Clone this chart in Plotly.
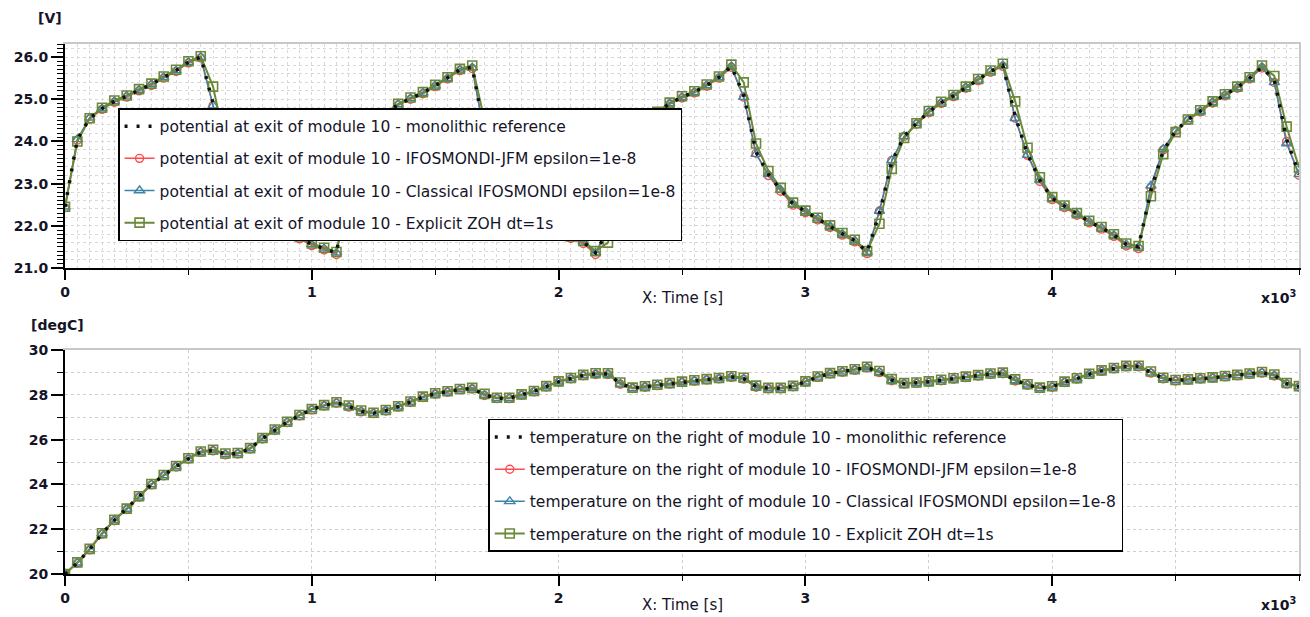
import plotly.graph_objects as go

# ---------------- data ----------------
TIME_S = [
    0, 50, 100, 150, 200, 250, 300, 350, 400, 450,
    500, 550, 600, 650, 700, 750, 800, 850, 900, 950,
    1000, 1050, 1100, 1150, 1200, 1250, 1300, 1350, 1400, 1450,
    1500, 1550, 1600, 1650, 1700, 1750, 1800, 1850, 1900, 1950,
    2000, 2050, 2100, 2150, 2200, 2250, 2300, 2350, 2400, 2450,
    2500, 2550, 2600, 2650, 2700, 2750, 2800, 2850, 2900, 2950,
    3000, 3050, 3100, 3150, 3200, 3250, 3300, 3350, 3400, 3450,
    3500, 3550, 3600, 3650, 3700, 3750, 3800, 3850, 3900, 3950,
    4000, 4050, 4100, 4150, 4200, 4250, 4300, 4350, 4400, 4450,
    4500, 4550, 4600, 4650, 4700, 4750, 4800, 4850, 4900, 4950,
    5000,
]

# potential at exit of module 10 [V]
V_REF = [
    22.45, 24.05, 24.55, 24.78, 24.95, 25.07, 25.22, 25.35, 25.52, 25.68,
    25.88, 26.00, 24.90, 23.65, 23.05, 22.65, 22.38, 22.15, 21.92, 21.72,
    21.56, 21.46, 21.36, 23.05, 23.90, 24.35, 24.65, 24.88, 25.02, 25.15,
    25.32, 25.50, 25.70, 25.76, 24.20, 23.30, 22.85, 22.55, 22.30, 22.10,
    21.90, 21.73, 21.62, 21.36, 21.90, 23.30, 24.00, 24.40, 24.68, 24.90,
    25.05, 25.17, 25.33, 25.52, 25.78, 25.10, 23.75, 23.22, 22.85, 22.52,
    22.34, 22.17, 21.99, 21.81, 21.65, 21.38, 22.30, 23.52, 24.12, 24.43,
    24.70, 24.92, 25.08, 25.28, 25.46, 25.66, 25.80, 24.60, 23.70, 23.08,
    22.65, 22.46, 22.28, 22.10, 21.95, 21.78, 21.56, 21.50, 22.85, 23.78,
    24.25, 24.52, 24.72, 24.93, 25.10, 25.28, 25.50, 25.76, 25.45, 24.05,
    23.22,
]
V_JFM = [
    22.43, 24.03, 24.53, 24.76, 24.93, 25.05, 25.20, 25.33, 25.50, 25.66,
    25.86, 25.98, 24.85, 23.62, 23.02, 22.62, 22.35, 22.12, 21.89, 21.69,
    21.53, 21.43, 21.32, 23.08, 23.90, 24.33, 24.63, 24.86, 25.00, 25.13,
    25.30, 25.48, 25.68, 25.73, 24.15, 23.27, 22.82, 22.52, 22.27, 22.07,
    21.87, 21.70, 21.58, 21.32, 21.95, 23.33, 24.00, 24.38, 24.66, 24.88,
    25.03, 25.15, 25.31, 25.50, 25.76, 25.05, 23.72, 23.19, 22.82, 22.49,
    22.31, 22.14, 21.96, 21.78, 21.62, 21.34, 22.35, 23.55, 24.12, 24.41,
    24.68, 24.90, 25.06, 25.26, 25.44, 25.64, 25.78, 24.55, 23.67, 23.05,
    22.62, 22.43, 22.25, 22.07, 21.92, 21.75, 21.52, 21.46, 22.90, 23.80,
    24.25, 24.50, 24.70, 24.91, 25.08, 25.26, 25.48, 25.74, 25.40, 24.00,
    23.20,
]
V_CLASSICAL = [
    22.45, 24.05, 24.56, 24.78, 24.95, 25.08, 25.22, 25.36, 25.52, 25.68,
    25.88, 26.00, 24.85, 23.63, 23.05, 22.65, 22.38, 22.15, 21.92, 21.72,
    21.56, 21.46, 21.36, 23.10, 23.92, 24.35, 24.65, 24.88, 25.02, 25.15,
    25.32, 25.50, 25.70, 25.75, 24.15, 23.30, 22.85, 22.55, 22.30, 22.10,
    21.90, 21.73, 21.62, 21.36, 21.95, 23.35, 24.02, 24.40, 24.68, 24.90,
    25.05, 25.17, 25.33, 25.52, 25.78, 25.05, 23.70, 23.22, 22.85, 22.52,
    22.34, 22.17, 21.99, 21.81, 21.65, 21.38, 22.35, 23.55, 24.12, 24.43,
    24.70, 24.92, 25.08, 25.28, 25.46, 25.66, 25.80, 24.55, 23.68, 23.08,
    22.65, 22.46, 22.28, 22.10, 21.95, 21.78, 21.56, 21.50, 22.95, 23.82,
    24.25, 24.52, 24.72, 24.93, 25.10, 25.28, 25.50, 25.76, 25.40, 23.95,
    23.22,
]
V_ZOH = [
    22.45, 24.00, 24.55, 24.80, 24.97, 25.09, 25.24, 25.37, 25.54, 25.70,
    25.90, 26.02, 25.30, 23.90, 23.15, 22.72, 22.42, 22.18, 21.95, 21.75,
    21.58, 21.48, 21.38, 22.70, 23.80, 24.32, 24.66, 24.89, 25.04, 25.17,
    25.34, 25.52, 25.72, 25.80, 24.50, 23.40, 22.90, 22.58, 22.33, 22.12,
    21.92, 21.75, 21.64, 21.40, 21.60, 23.00, 23.95, 24.40, 24.70, 24.92,
    25.07, 25.19, 25.35, 25.54, 25.82, 25.40, 23.95, 23.30, 22.90, 22.55,
    22.36, 22.19, 22.01, 21.83, 21.67, 21.40, 22.05, 23.35, 24.08, 24.43,
    24.72, 24.94, 25.10, 25.30, 25.48, 25.68, 25.84, 24.95, 23.85, 23.15,
    22.68, 22.48, 22.30, 22.12, 21.97, 21.80, 21.58, 21.52, 22.70, 23.70,
    24.22, 24.52, 24.74, 24.95, 25.12, 25.30, 25.52, 25.80, 25.55, 24.35,
    23.38,
]

# temperature on the right of module 10 [degC]
T_REF = [
    20.00, 20.50, 21.10, 21.80, 22.40, 22.90, 23.45, 24.00, 24.40, 24.80,
    25.15, 25.45, 25.52, 25.35, 25.38, 25.60, 26.05, 26.43, 26.78, 27.08,
    27.35, 27.52, 27.65, 27.48, 27.27, 27.18, 27.30, 27.47, 27.68, 27.90,
    28.05, 28.14, 28.24, 28.28, 28.00, 27.85, 27.85, 28.00, 28.15, 28.37,
    28.58, 28.73, 28.87, 28.93, 28.93, 28.50, 28.30, 28.36, 28.43, 28.50,
    28.57, 28.63, 28.68, 28.73, 28.80, 28.72, 28.37, 28.29, 28.29, 28.38,
    28.58, 28.80, 28.95, 29.03, 29.12, 29.22, 29.02, 28.66, 28.50, 28.53,
    28.58, 28.65, 28.72, 28.79, 28.86, 28.93, 28.96, 28.65, 28.45, 28.30,
    28.36, 28.57, 28.72, 28.92, 29.07, 29.18, 29.27, 29.27, 29.00, 28.73,
    28.64, 28.67, 28.72, 28.76, 28.82, 28.87, 28.93, 28.99, 28.87, 28.50,
    28.37,
]
T_JFM = [
    20.00, 20.48, 21.08, 21.78, 22.38, 22.88, 23.43, 23.98, 24.38, 24.78,
    25.13, 25.43, 25.50, 25.32, 25.36, 25.58, 26.03, 26.41, 26.76, 27.06,
    27.33, 27.50, 27.63, 27.45, 27.24, 27.16, 27.28, 27.45, 27.66, 27.88,
    28.03, 28.12, 28.22, 28.26, 27.97, 27.83, 27.83, 27.98, 28.13, 28.35,
    28.56, 28.71, 28.85, 28.91, 28.91, 28.47, 28.28, 28.34, 28.41, 28.48,
    28.55, 28.61, 28.66, 28.71, 28.78, 28.70, 28.34, 28.27, 28.27, 28.36,
    28.56, 28.78, 28.93, 29.01, 29.10, 29.20, 28.99, 28.63, 28.48, 28.51,
    28.56, 28.63, 28.70, 28.77, 28.84, 28.91, 28.94, 28.62, 28.43, 28.28,
    28.34, 28.55, 28.70, 28.90, 29.05, 29.16, 29.25, 29.25, 28.97, 28.71,
    28.62, 28.65, 28.70, 28.74, 28.80, 28.85, 28.91, 28.97, 28.84, 28.48,
    28.35,
]
T_CLASSICAL = [
    20.00, 20.50, 21.10, 21.80, 22.40, 22.90, 23.45, 24.00, 24.40, 24.80,
    25.15, 25.45, 25.52, 25.35, 25.38, 25.60, 26.05, 26.43, 26.78, 27.08,
    27.35, 27.52, 27.65, 27.47, 27.27, 27.18, 27.30, 27.47, 27.68, 27.90,
    28.05, 28.14, 28.24, 28.28, 27.99, 27.85, 27.85, 28.00, 28.15, 28.37,
    28.58, 28.73, 28.87, 28.93, 28.93, 28.49, 28.30, 28.36, 28.43, 28.50,
    28.57, 28.63, 28.68, 28.73, 28.80, 28.71, 28.36, 28.29, 28.29, 28.38,
    28.58, 28.80, 28.95, 29.03, 29.12, 29.22, 29.01, 28.65, 28.50, 28.53,
    28.58, 28.65, 28.72, 28.79, 28.86, 28.93, 28.96, 28.64, 28.45, 28.30,
    28.36, 28.57, 28.72, 28.92, 29.07, 29.18, 29.27, 29.27, 28.99, 28.73,
    28.64, 28.67, 28.72, 28.76, 28.82, 28.87, 28.93, 28.99, 28.86, 28.50,
    28.37,
]
T_ZOH = [
    20.00, 20.52, 21.12, 21.82, 22.42, 22.92, 23.47, 24.02, 24.42, 24.82,
    25.17, 25.47, 25.55, 25.38, 25.40, 25.62, 26.07, 26.45, 26.80, 27.10,
    27.37, 27.54, 27.67, 27.52, 27.30, 27.20, 27.32, 27.49, 27.70, 27.92,
    28.07, 28.16, 28.26, 28.31, 28.04, 27.87, 27.87, 28.02, 28.17, 28.39,
    28.60, 28.75, 28.89, 28.96, 28.96, 28.55, 28.32, 28.38, 28.45, 28.52,
    28.59, 28.65, 28.70, 28.75, 28.83, 28.76, 28.41, 28.31, 28.31, 28.40,
    28.60, 28.82, 28.97, 29.05, 29.14, 29.25, 29.06, 28.70, 28.52, 28.55,
    28.60, 28.67, 28.74, 28.81, 28.88, 28.95, 28.99, 28.69, 28.47, 28.32,
    28.38, 28.59, 28.74, 28.94, 29.09, 29.20, 29.29, 29.30, 29.04, 28.76,
    28.66, 28.69, 28.74, 28.78, 28.84, 28.89, 28.95, 29.02, 28.91, 28.53,
    28.39,
]

X_TICK_VALS = [0, 1000, 2000, 3000, 4000]
X_TICK_TEXT = ["0", "1", "2", "3", "4"]

V_NAMES = [
    "potential at exit of module 10 - monolithic reference",
    "potential at exit of module 10 - IFOSMONDI-JFM epsilon=1e-8",
    "potential at exit of module 10 - Classical IFOSMONDI epsilon=1e-8",
    "potential at exit of module 10 - Explicit ZOH dt=1s",
]
T_NAMES = [
    "temperature on the right of module 10 - monolithic reference",
    "temperature on the right of module 10 - IFOSMONDI-JFM epsilon=1e-8",
    "temperature on the right of module 10 - Classical IFOSMONDI epsilon=1e-8",
    "temperature on the right of module 10 - Explicit ZOH dt=1s",
]

# ---------------- styles ----------------
RED = "#ff4b4b"
BLUE = "#3a85a8"
GREEN = "#6a8a38"
GRID = "#cfcfcf"
GRID_FINE = "#d9d9d9"
FRAME = "#c8c8c8"
TXT = "#141428"
FONT = "DejaVu Sans"

fig = go.Figure()


def add_group(xs, ref, jfm, cla, zoh, names, xa, ya, xa_ov, ya_ov, legend, tag):
    specs = [
        (jfm, names[1], dict(color=RED, width=1.5), dict(symbol="circle-open", size=8, color=RED, line=dict(width=1.4)), 2),
        (cla, names[2], dict(color=BLUE, width=1.5), dict(symbol="triangle-up-open", size=9, color=BLUE, line=dict(width=1.4)), 3),
        (zoh, names[3], dict(color=GREEN, width=2), dict(symbol="square-open", size=9, color=GREEN, line=dict(width=1.6)), 4),
    ]
    for ys, nm, ln, mk, rank in specs:
        fig.add_trace(go.Scatter(
            x=xs, y=ys, name=nm, mode="lines+markers", line=ln, marker=mk,
            xaxis=xa, yaxis=ya, legend=legend, legendgroup=f"{tag}{rank}", legendrank=rank,
        ))
    # the reference curve lives on the overlay axes (same ranges), drawn on top
    fig.add_trace(go.Scatter(
        x=xs, y=ref, name=names[0], mode="lines",
        line=dict(color="#111111", width=3.5, dash="3px,9px"),
        xaxis=xa_ov, yaxis=ya_ov, legend=legend, legendgroup=f"{tag}1", legendrank=1,
    ))


add_group(TIME_S, V_REF, V_JFM, V_CLASSICAL, V_ZOH, V_NAMES, "x", "y", "x3", "y3", "legend", "v")
add_group(TIME_S, T_REF, T_JFM, T_CLASSICAL, T_ZOH, T_NAMES, "x2", "y2", "x4", "y4", "legend2", "t")

TOP_DOM = [0.5774, 1.0]
BOT_DOM = [0.0, 0.4226]
V_RANGE = [21.0, 26.31]
T_RANGE = [20.0, 30.0]
X_RANGE = [0, 5000]

tickfont = dict(family=FONT, size=14, color=TXT, weight="bold")

base_x = dict(
    range=X_RANGE, tickvals=X_TICK_VALS, ticktext=X_TICK_TEXT,
    ticks="outside", ticklen=10, tickwidth=1.5, tickcolor="#000000",
    showline=True, linecolor="#000000", linewidth=2, zeroline=False,
    tickfont=tickfont, domain=[0, 1],
)

layout_axes = dict(
    xaxis=dict(base_x, anchor="y", showgrid=False,
               minor=dict(dtick=500, tick0=0, ticks="outside", ticklen=5, tickcolor="#000000", tickwidth=1.2, showgrid=False)),
    yaxis=dict(range=V_RANGE, domain=TOP_DOM, anchor="x", dtick=1, tick0=21, tickformat=".1f",
               ticks="outside", ticklen=12, tickwidth=1.5, tickcolor="#000000",
               showline=True, linecolor="#000000", linewidth=2, zeroline=False, showgrid=False,
               tickfont=tickfont,
               minor=dict(dtick=0.1, tick0=21, ticks="outside", ticklen=6, tickcolor="#000000", tickwidth=1, showgrid=False)),
    # fine dotted grid + light frame for the top panel
    xaxis3=dict(range=X_RANGE, overlaying="x", anchor="y3", side="top", dtick=50, tick0=0,
                showgrid=True, gridcolor=GRID_FINE, griddash="dot", gridwidth=1,
                showticklabels=False, ticks="", showline=True, linecolor=FRAME, linewidth=1.5, zeroline=False),
    yaxis3=dict(range=V_RANGE, overlaying="y", anchor="x3", side="right", dtick=0.2, tick0=21,
                showgrid=True, gridcolor=GRID_FINE, griddash="dot", gridwidth=1,
                showticklabels=False, ticks="", showline=True, linecolor=FRAME, linewidth=1.5, zeroline=False),
    xaxis2=dict(base_x, anchor="y2", showgrid=True, gridcolor=GRID, griddash="dot", gridwidth=1,
                minor=dict(dtick=500, tick0=0, ticks="outside", ticklen=5, tickcolor="#000000", tickwidth=1.2,
                           showgrid=True, gridcolor=GRID, griddash="dot", gridwidth=1)),
    yaxis2=dict(range=T_RANGE, domain=BOT_DOM, anchor="x2", dtick=2, tick0=20,
                ticks="outside", ticklen=12, tickwidth=1.5, tickcolor="#000000",
                showline=True, linecolor="#000000", linewidth=2, zeroline=False,
                showgrid=True, gridcolor=GRID, griddash="dot", gridwidth=1,
                tickfont=tickfont,
                minor=dict(dtick=1, tick0=20, ticks="outside", ticklen=6, tickcolor="#000000", tickwidth=1,
                           showgrid=True, gridcolor=GRID, griddash="dot", gridwidth=1)),
    xaxis4=dict(range=X_RANGE, overlaying="x2", anchor="y4", side="top", showgrid=False,
                showticklabels=False, ticks="", showline=True, linecolor=FRAME, linewidth=1.5, zeroline=False),
    yaxis4=dict(range=T_RANGE, overlaying="y2", anchor="x4", side="right", showgrid=False,
                showticklabels=False, ticks="", showline=True, linecolor=FRAME, linewidth=1.5, zeroline=False),
)

legend_common = dict(
    xanchor="left", yanchor="top", bgcolor="#ffffff", bordercolor="#000000", borderwidth=1.5,
    font=dict(family=FONT, size=15.5, color=TXT), traceorder="grouped", tracegroupgap=9,
    itemwidth=30, itemclick=False, itemdoubleclick=False,
)

ann_font = dict(family=FONT, size=15, color=TXT)
ann_bold = dict(family=FONT, size=14, color=TXT, weight="bold")
annotations = [
    dict(text="[V]", x=-0.0122, y=1.049, xref="paper", yref="paper", showarrow=False,
         xanchor="center", yanchor="middle", font=ann_bold),
    dict(text="[degC]", x=-0.0057, y=0.4698, xref="paper", yref="paper", showarrow=False,
         xanchor="center", yanchor="middle", font=ann_bold),
    dict(text="X: Time [s]", x=0.5008, y=0.5208, xref="paper", yref="paper", showarrow=False,
         xanchor="center", yanchor="middle", font=ann_font),
    dict(text="X: Time [s]", x=0.5008, y=-0.0585, xref="paper", yref="paper", showarrow=False,
         xanchor="center", yanchor="middle", font=ann_font),
    dict(text="x10<sup>3</sup>", x=1.0, y=0.5226, xref="paper", yref="paper", showarrow=False,
         xanchor="right", yanchor="middle", font=ann_bold),
    dict(text="x10<sup>3</sup>", x=1.0, y=-0.0566, xref="paper", yref="paper", showarrow=False,
         xanchor="right", yanchor="middle", font=ann_bold),
]

fig.update_layout(
    width=1310, height=617,
    margin=dict(l=65, r=11, t=44, b=43),
    paper_bgcolor="#ffffff", plot_bgcolor="#ffffff",
    font=dict(family=FONT, color=TXT),
    legend=dict(legend_common, x=0.043, y=0.879),
    legend2=dict(legend_common, x=0.343, y=0.2925),
    annotations=annotations,
    showlegend=True,
    **layout_axes,
)

fig.write_html("out.html")
